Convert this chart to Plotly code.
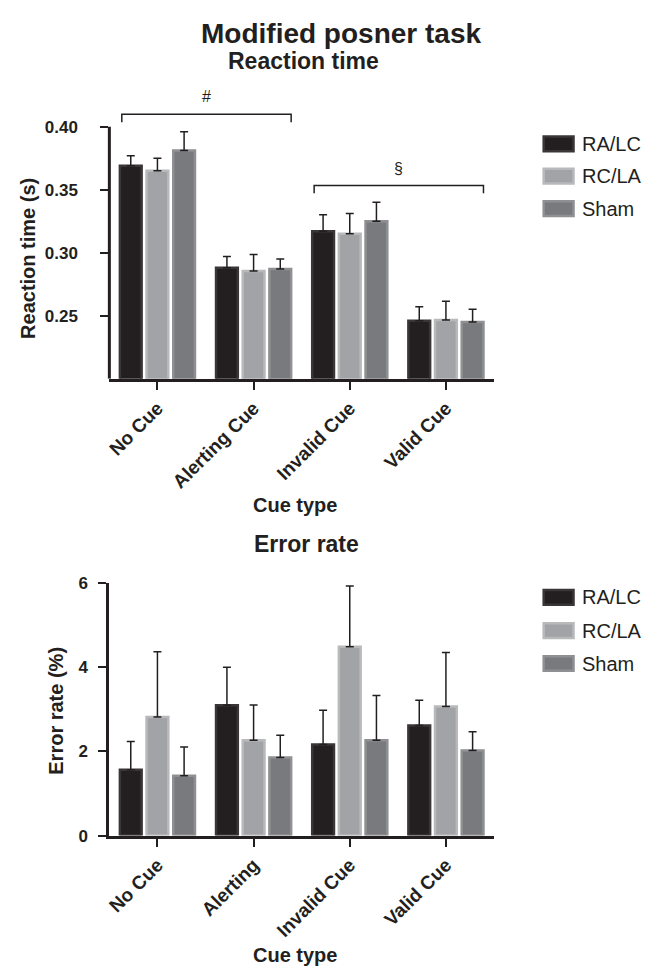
import plotly.graph_objects as go

# ---------------- data ----------------
groups = ["RA/LC", "RC/LA", "Sham"]
cues_rt = ["No Cue", "Alerting Cue", "Invalid Cue", "Valid Cue"]
cues_err = ["No Cue", "Alerting", "Invalid Cue", "Valid Cue"]

rt_ralc = [0.369, 0.288, 0.317, 0.246]
rt_ralc_se = [0.008, 0.009, 0.013, 0.011]
rt_rcla = [0.365, 0.2855, 0.315, 0.2465]
rt_rcla_se = [0.010, 0.013, 0.016, 0.015]
rt_sham = [0.381, 0.287, 0.325, 0.245]
rt_sham_se = [0.015, 0.008, 0.015, 0.010]

er_ralc = [1.56, 3.09, 2.16, 2.61]
er_ralc_se = [0.67, 0.90, 0.81, 0.60]
er_rcla = [2.81, 2.26, 4.48, 3.06]
er_rcla_se = [1.55, 0.84, 1.44, 1.28]
er_sham = [1.42, 1.85, 2.26, 2.02]
er_sham_se = [0.68, 0.53, 1.06, 0.44]

# significance brackets for reaction time: (label, first cue index, last cue index, level)
sig_labels = ["#", "§"]
sig_from = [0, 2]
sig_to = [1, 3]
sig_level = [0.4098, 0.3533]

rt_ticks = [0.25, 0.30, 0.35, 0.40]
er_ticks = [0, 2, 4, 6]

# ---------------- style ----------------
W, H = 659, 976
FONT = "Liberation Sans, Arial, Helvetica, sans-serif"
INK = "#231f20"
fills = ["#231f20", "#a2a3a6", "#797a7d"]
edges = ["#3a3637", "#b8b9bb", "#8f9093"]
BARGAP = 0.168
BARGROUPGAP = 0.184


def px_x(p):
    return p / W


def px_y(p):
    return 1 - p / H


x_dom = [px_x(106), px_x(493)]
top_pix = (100, 377)      # top of domain, baseline
bot_pix = (585, 843)
rt_range = [0.20, 0.20 + 0.20 * (top_pix[1] - top_pix[0]) / (377 - 120)]

fig = go.Figure()

rt_vals = [rt_ralc, rt_rcla, rt_sham]
rt_errs = [rt_ralc_se, rt_rcla_se, rt_sham_se]
er_vals = [er_ralc, er_rcla, er_sham]
er_errs = [er_ralc_se, er_rcla_se, er_sham_se]

for i, g in enumerate(groups):
    fig.add_trace(go.Bar(
        x=cues_rt, y=rt_vals[i], name=g, xaxis="x", yaxis="y",
        marker=dict(color=fills[i], line=dict(color=edges[i], width=2.5)),
        error_y=dict(type="data", symmetric=False, array=rt_errs[i],
                     arrayminus=[0] * len(rt_errs[i]),
                     color=INK, thickness=1.5, width=4),
        showlegend=False,
    ))
for i, g in enumerate(groups):
    fig.add_trace(go.Bar(
        x=cues_err, y=er_vals[i], name=g, xaxis="x2", yaxis="y2",
        marker=dict(color=fills[i], line=dict(color=edges[i], width=2.5)),
        error_y=dict(type="data", symmetric=False, array=er_errs[i],
                     arrayminus=[0] * len(er_errs[i]),
                     color=INK, thickness=1.5, width=4),
        showlegend=False,
    ))

axis_common = dict(
    showgrid=False, zeroline=False, linecolor=INK, linewidth=3,
    ticks="outside", ticklen=8, tickwidth=2, tickcolor=INK,
)

fig.update_layout(
    width=W, height=H, autosize=False,
    margin=dict(l=0, r=0, t=0, b=0),
    paper_bgcolor="white", plot_bgcolor="white",
    barmode="group", bargap=BARGAP, bargroupgap=BARGROUPGAP,
    font=dict(family=FONT, color=INK),
    xaxis=dict(domain=x_dom, anchor="y", range=[-0.5, 3.5], showline=True,
               tickangle=-45,
               tickfont=dict(family=FONT, size=19, color=INK, weight="bold"),
               **axis_common),
    yaxis=dict(domain=[px_y(top_pix[1]), px_y(top_pix[0])], anchor="x",
               range=rt_range, showline=False, tickvals=rt_ticks,
               ticktext=[f"{v:.2f}" for v in rt_ticks], ticklabelstandoff=19,
               tickfont=dict(family=FONT, size=17, color=INK, weight="bold"),
               **axis_common),
    xaxis2=dict(domain=x_dom, anchor="y2", range=[-0.5, 3.5], showline=True,
                tickangle=-45,
                tickfont=dict(family=FONT, size=19, color=INK, weight="bold"),
                **axis_common),
    yaxis2=dict(domain=[px_y(bot_pix[1]), px_y(bot_pix[0])], anchor="x2",
                range=[0, 6], showline=True, tickvals=er_ticks,
                ticklabelstandoff=7,
                tickfont=dict(family=FONT, size=17, color=INK, weight="bold"),
                **axis_common),
)

shapes = []
annotations = []

# top y-axis line only up to 0.40
shapes.append(dict(type="line", xref="x domain", yref="y", x0=0, x1=0,
                   y0=rt_range[0], y1=max(rt_ticks),
                   line=dict(color=INK, width=3)))

# significance brackets
group_w = 1 - BARGAP
slot = group_w / 3
edge = group_w / 2 - slot * BARGROUPGAP / 2
drop = 8 * (rt_range[1] - rt_range[0]) / (top_pix[1] - top_pix[0])
for lab, a, b, lev in zip(sig_labels, sig_from, sig_to, sig_level):
    xa, xb = a - edge + 0.02, b + edge
    shapes.append(dict(type="path", xref="x", yref="y",
                       path=f"M {xa},{lev - drop} L {xa},{lev} L {xb},{lev} L {xb},{lev - drop}",
                       line=dict(color=INK, width=1.5)))
    annotations.append(dict(text=lab, xref="x", yref="y", x=(xa + xb) / 2, y=lev,
                            yanchor="bottom", xanchor="center", yshift=7,
                            showarrow=False, font=dict(family=FONT, size=16, color=INK)))

# manual legends
leg_rows_top = [137.5, 170.5, 203.5]
leg_rows_bot = [600, 634, 667.5]
for rows in (leg_rows_top, leg_rows_bot):
    for i, g in enumerate(groups):
        cy = rows[i]
        shapes.append(dict(type="rect", xref="paper", yref="paper",
                           x0=px_x(543), x1=px_x(573), y0=px_y(cy + 7.5), y1=px_y(cy - 7.5),
                           fillcolor=fills[i], line=dict(color=edges[i], width=2.5)))
        annotations.append(dict(text=g, xref="paper", yref="paper", x=px_x(580), y=px_y(cy),
                                xanchor="left", yanchor="middle", showarrow=False,
                                font=dict(family=FONT, size=20, color=INK)))


def title(text, x, y, size, angle=0):
    annotations.append(dict(text=text, xref="paper", yref="paper", x=px_x(x), y=px_y(y),
                            xanchor="center", yanchor="middle", showarrow=False,
                            textangle=angle,
                            font=dict(family=FONT, size=size, color=INK, weight="bold")))


title("Modified posner task", 339, 25, 28)
title("Reaction time", 301, 53, 23)
title("Error rate", 304, 546, 23)
title("Reaction time (s)", 24, 254, 20, -90)
title("Error rate (%)", 52, 716, 20, -90)
title("Cue type", 293, 506, 20)
title("Cue type", 293, 965, 20)

fig.update_layout(shapes=shapes, annotations=annotations)

fig.write_html(
    "out.html",
    config={"displayModeBar": False},
    post_script="document.body.style.margin='0';document.body.style.overflow='hidden';",
)
